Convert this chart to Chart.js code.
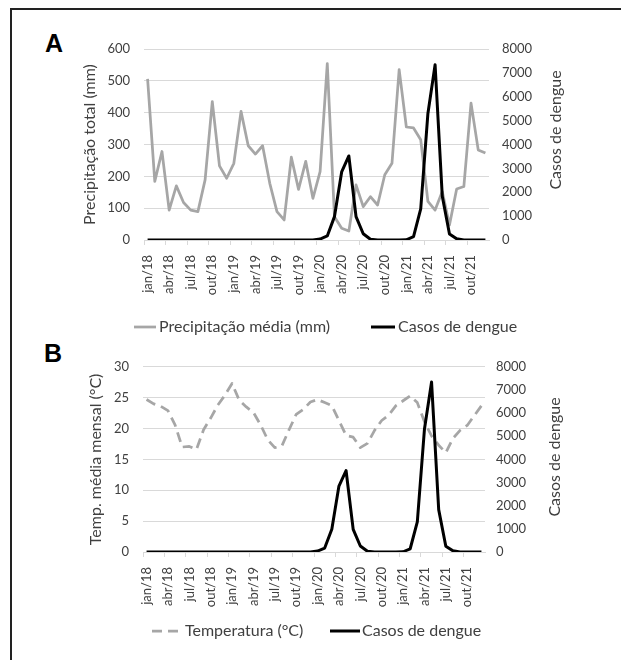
<!DOCTYPE html>
<html>
<head>
<meta charset="utf-8">
<script src="https://cdn.jsdelivr.net/npm/chart.js@4.4.1/dist/chart.umd.min.js"></script>
<style>
  html, body { margin: 0; padding: 0; background: #fff; }
  body { width: 621px; height: 660px; position: relative; overflow: hidden; font-family: Lato, sans-serif; }
  .frame-left { position: absolute; left: 10px; top: 8px; width: 2px; height: 660px; background: #222; }
  .frame-top { position: absolute; left: 10px; top: 8px; width: 621px; height: 2px; background: #222; }
  .tag { position: absolute; font: bold 25px "Liberation Sans", Arial, sans-serif; line-height: 25px; color: #000; }
  .wrap { position: absolute; left: 0; width: 621px; }
  #wrapA { top: 0; height: 345px; }
  #wrapB { top: 345px; height: 315px; }
</style>
</head>
<body>
<div class="frame-left"></div>
<div class="frame-top"></div>
<div class="tag" style="left:45px;top:31px">A</div>
<div class="tag" style="left:44px;top:341px">B</div>
<div class="wrap" id="wrapA"><canvas id="chartA" width="621" height="345"></canvas></div>
<div class="wrap" id="wrapB"><canvas id="chartB" width="621" height="315"></canvas></div>

<script>
// --- dados (jan/2018 a dez/2021) ---
const months = [
  "jan/18","fev/18","mar/18","abr/18","mai/18","jun/18","jul/18","ago/18","set/18","out/18","nov/18","dez/18",
  "jan/19","fev/19","mar/19","abr/19","mai/19","jun/19","jul/19","ago/19","set/19","out/19","nov/19","dez/19",
  "jan/20","fev/20","mar/20","abr/20","mai/20","jun/20","jul/20","ago/20","set/20","out/20","nov/20","dez/20",
  "jan/21","fev/21","mar/21","abr/21","mai/21","jun/21","jul/21","ago/21","set/21","out/21","nov/21","dez/21"
];

const precipitacao = [
  506, 184, 278, 94, 170, 118, 94, 89, 189, 435, 233, 194,
  241, 404, 296, 270, 296, 178, 89, 63, 260, 159, 247, 131,
  215, 554, 73, 37, 28, 173, 105, 136, 110, 205, 241, 535,
  355, 352, 315, 121, 94, 152, 47, 160, 168, 430, 283, 273
];

const temperatura = [
  24.7, 24.0, 23.6, 22.9, 20.6, 17.0, 17.1, 16.6, 19.8, 21.7, 23.8, 25.4,
  27.3, 24.6, 23.5, 22.6, 20.6, 18.2, 16.9, 17.2, 19.8, 22.3, 23.1, 24.3,
  24.7, 24.2, 23.7, 21.3, 18.9, 18.6, 16.9, 17.6, 19.7, 21.3, 22.2, 23.7,
  24.5, 25.3, 24.2, 21.1, 18.8, 17.3, 16.1, 18.4, 19.7, 20.5, 22.1, 23.7
];

const dengue = [
  0, 0, 0, 0, 0, 0, 0, 0, 0, 0, 0, 0,
  0, 0, 0, 0, 0, 0, 0, 0, 0, 0, 0, 0,
  40, 170, 980, 2850, 3520, 980, 260, 30, 0, 0, 0, 0,
  10, 140, 1300, 5300, 7340, 1830, 250, 50, 0, 0, 0, 0
];

const TEXT = "#404040";
const GRID = "#d9d9d9";
const GREY = "#a6a6a6";
const FONT_FAMILY = "Lato, 'Open Sans', sans-serif";

// título do eixo direito (lido de baixo para cima) + legenda própria
const extrasPlugin = {
  id: "extras",
  afterDraw(chart, args, opts) {
    const ctx = chart.ctx;
    const rt = opts.rightTitle;
    ctx.save();
    ctx.font = `16px ${FONT_FAMILY}`;
    ctx.fillStyle = TEXT;
    ctx.translate(rt.x, rt.y);
    ctx.rotate(-Math.PI / 2);
    ctx.textAlign = "center";
    ctx.textBaseline = "middle";
    ctx.fillText(rt.text, 0, 0);
    ctx.restore();

    opts.legend.forEach((item) => {
      const ds = chart.data.datasets[item.dataset];
      ctx.save();
      ctx.strokeStyle = ds.borderColor;
      ctx.lineWidth = ds.borderWidth;
      ctx.setLineDash(ds.borderDash || []);
      ctx.beginPath();
      ctx.moveTo(item.x, opts.legendY);
      ctx.lineTo(item.x + item.w, opts.legendY);
      ctx.stroke();
      ctx.setLineDash([]);
      ctx.font = `16px ${FONT_FAMILY}`;
      ctx.fillStyle = TEXT;
      ctx.textAlign = "left";
      ctx.textBaseline = "middle";
      ctx.fillText(ds.label, item.x + item.w + item.gap, opts.legendY);
      ctx.restore();
    });
  },
};

function buildOptions(cfg) {
  return {
    responsive: false,
    animation: false,
    devicePixelRatio: 1,
    layout: { padding: cfg.padding },
    elements: {
      point: { radius: 0 },
      line: { tension: 0, borderJoinStyle: "round", borderCapStyle: "butt" },
    },
    plugins: {
      legend: { display: false },
      tooltip: { enabled: false },
      extras: cfg.extras,
    },
    scales: {
      x: {
        type: "category",
        offset: true,
        afterFit: (s) => { s.height = 60; },
        grid: {
          display: true,
          drawOnChartArea: false,
          drawTicks: true,
          tickLength: 5,
          offset: true,
          color: (c) => (c.index % 3 === 0 ? GRID : "rgba(0,0,0,0)"),
        },
        border: { display: true, color: GRID, width: 1 },
        ticks: {
          autoSkip: false,
          maxRotation: 90,
          minRotation: 90,
          padding: 10,
          color: TEXT,
          font: { family: FONT_FAMILY, size: 13 },
          callback: (v, i) => (i % 3 === 0 ? months[i] : ""),
        },
      },
      y: {
        position: "left",
        min: 0,
        max: cfg.leftMax,
        afterFit: (s) => { s.width = cfg.leftWidth; },
        grid: { color: GRID, lineWidth: 1, drawTicks: false },
        border: { display: false },
        ticks: {
          stepSize: cfg.leftStep,
          padding: 14,
          color: TEXT,
          font: { family: FONT_FAMILY, size: 13 },
          callback: (v) => String(v),
        },
        title: {
          display: true,
          text: cfg.leftTitle,
          color: TEXT,
          padding: { top: 10, bottom: 0 },
          font: { family: FONT_FAMILY, size: 16 },
        },
      },
      y1: {
        position: "right",
        min: 0,
        max: 8000,
        afterFit: (s) => { s.width = cfg.rightWidth; },
        grid: { drawOnChartArea: false, drawTicks: false },
        border: { display: false },
        ticks: {
          stepSize: 1000,
          padding: cfg.rightPad,
          color: TEXT,
          font: { family: FONT_FAMILY, size: 13 },
          callback: (v) => String(v),
        },
      },
    },
  };
}

const dengueDataset = () => ({
  label: "Casos de dengue",
  data: dengue,
  yAxisID: "y1",
  borderColor: "#000",
  borderWidth: 3,
  order: 0,
});

new Chart(document.getElementById("chartA").getContext("2d"), {
  type: "line",
  data: {
    labels: months,
    datasets: [
      {
        label: "Precipitação média (mm)",
        data: precipitacao,
        yAxisID: "y",
        borderColor: GREY,
        borderWidth: 2.75,
        order: 1,
      },
      dengueDataset(),
    ],
  },
  options: buildOptions({
    padding: { top: 49, bottom: 45, left: 70, right: 0 },
    leftMax: 600,
    leftStep: 100,
    leftWidth: 74,
    rightWidth: 132,
    rightPad: 13,
    leftTitle: "Precipitação total (mm)",
    extras: {
      rightTitle: { text: "Casos de dengue", x: 556, y: 130 },
      legendY: 327,
      legend: [
        { dataset: 0, x: 134, w: 22, gap: 3 },
        { dataset: 1, x: 371, w: 24, gap: 3 },
      ],
    },
  }),
  plugins: [extrasPlugin],
});

new Chart(document.getElementById("chartB").getContext("2d"), {
  type: "line",
  data: {
    labels: months,
    datasets: [
      {
        label: "Temperatura (°C)",
        data: temperatura,
        yAxisID: "y",
        borderColor: GREY,
        borderWidth: 2.75,
        borderDash: [10, 6],
        order: 1,
      },
      dengueDataset(),
    ],
  },
  options: buildOptions({
    padding: { top: 17, bottom: 48, left: 76, right: 0 },
    leftMax: 30,
    leftStep: 5,
    leftWidth: 67,
    rightWidth: 136,
    rightPad: 11,
    leftTitle: "Temp. média mensal (°C)",
    extras: {
      rightTitle: { text: "Casos de dengue", x: 555, y: 112 },
      legendY: 286,
      legend: [
        { dataset: 0, x: 152, w: 30, gap: 3 },
        { dataset: 1, x: 330, w: 30, gap: 2 },
      ],
    },
  }),
  plugins: [extrasPlugin],
});
</script>
</body>
</html>
